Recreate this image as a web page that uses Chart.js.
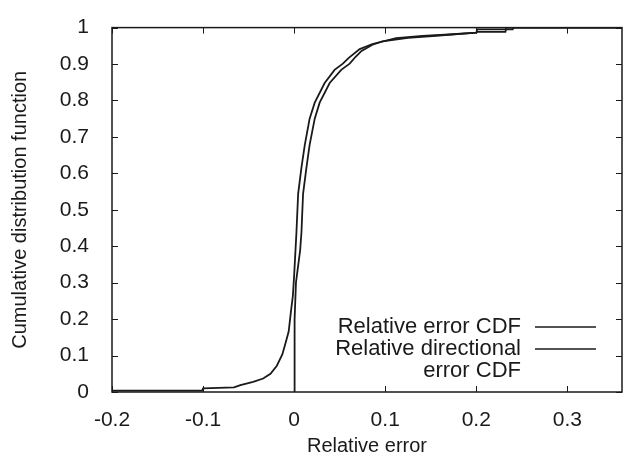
<!DOCTYPE html>
<html>
<head>
<meta charset="utf-8">
<script src="https://cdn.jsdelivr.net/npm/chart.js@4.4.1/dist/chart.umd.min.js"></script>
<style>
  html, body { margin: 0; padding: 0; background: #fff; }
  #wrap { width: 627px; height: 459px; }
</style>
</head>
<body>
<div id="wrap"><canvas id="cdf_chart"></canvas></div>
<script>
// ticks
const xTicks = [-0.2, -0.1, 0, 0.1, 0.2, 0.3];
const yTicks = [0, 0.1, 0.2, 0.3, 0.4, 0.5, 0.6, 0.7, 0.8, 0.9, 1];

// signed (directional) relative error CDF
const dirX = [-0.2, -0.101, -0.1, -0.066, -0.059, -0.045, -0.034, -0.026, -0.019, -0.013, -0.0098,
  -0.006, -0.0036, -0.0014, 0, 0.0025, 0.0044, 0.008, 0.0117, 0.017, 0.0226, 0.0335, 0.0444,
  0.0535, 0.06, 0.072, 0.086, 0.112, 0.141, 0.17, 0.2, 0.201, 0.232, 0.233, 0.36];
const dirY = [0.004, 0.004, 0.01, 0.0125, 0.019, 0.028, 0.037, 0.05, 0.072, 0.103, 0.131,
  0.166, 0.219, 0.264, 0.32, 0.437, 0.544, 0.616, 0.678, 0.75, 0.794, 0.848, 0.884,
  0.901, 0.917, 0.941, 0.955, 0.971, 0.977, 0.981, 0.986, 0.988, 0.988, 1, 1];

// absolute relative error CDF
const absX = [0, 0.0005, 0.002, 0.0066, 0.008, 0.0098, 0.0135, 0.017, 0.0226, 0.028, 0.039,
  0.0517, 0.061, 0.0675, 0.074, 0.086, 0.097, 0.125, 0.152, 0.2, 0.201, 0.24, 0.241, 0.36];
const absY = [0, 0.2, 0.3, 0.389, 0.437, 0.544, 0.616, 0.678, 0.75, 0.794, 0.848,
  0.884, 0.901, 0.92, 0.936, 0.953, 0.962, 0.972, 0.977, 0.986, 0.995, 0.995, 1, 1];

const toPoints = (xs, ys) => xs.map((x, i) => ({ x: x, y: ys[i] }));

const FONT = "'Liberation Sans', Arial, Helvetica, sans-serif";
const INK = "#1a1a1a";

// gnuplot style frame with inward ticks on all four sides + legend
const framePlugin = {
  id: "frame",
  afterDraw(chart) {
    const { ctx, chartArea: a, scales } = chart;
    ctx.save();
    ctx.strokeStyle = INK;
    ctx.lineWidth = 1;
    ctx.beginPath();
    xTicks.forEach((v) => {
      const px = Math.round(scales.x.getPixelForValue(v)) + 0.5;
      ctx.moveTo(px, a.bottom);
      ctx.lineTo(px, a.bottom - 6);
      ctx.moveTo(px, a.top);
      ctx.lineTo(px, a.top + 6);
    });
    yTicks.forEach((v) => {
      const py = Math.round(scales.y.getPixelForValue(v)) + 0.5;
      ctx.moveTo(a.left, py);
      ctx.lineTo(a.left + 6, py);
      ctx.moveTo(a.right, py);
      ctx.lineTo(a.right - 6, py);
    });
    ctx.stroke();
    ctx.lineWidth = 1.5;
    ctx.strokeRect(a.left, a.top, a.right - a.left, a.bottom - a.top);

    // legend
    ctx.fillStyle = INK;
    ctx.font = "22px " + FONT;
    ctx.textAlign = "right";
    ctx.textBaseline = "middle";
    const lines = [
      { text: "Relative error CDF", y: 327, key: true },
      { text: "Relative directional", y: 349, key: true },
      { text: "error CDF", y: 371, key: false },
    ];
    lines.forEach((l) => {
      ctx.fillText(l.text, 521, l.y);
      if (l.key) {
        ctx.beginPath();
        ctx.lineWidth = 1.5;
        ctx.moveTo(535, l.y);
        ctx.lineTo(596, l.y);
        ctx.stroke();
      }
    });
    ctx.restore();
  },
};

const ctx = document.getElementById("cdf_chart").getContext("2d");
const chart = new Chart(ctx, {
  type: "line",
  data: {
    datasets: [
      {
        label: "Relative error CDF",
        data: toPoints(absX, absY),
        borderColor: INK,
        borderWidth: 1.8,
        pointRadius: 0,
        tension: 0,
      },
      {
        label: "Relative directional error CDF",
        data: toPoints(dirX, dirY),
        borderColor: INK,
        borderWidth: 1.8,
        pointRadius: 0,
        tension: 0,
      },
    ],
  },
  options: {
    responsive: true,
    maintainAspectRatio: false,
    animation: false,
    layout: {
      padding: { left: 0, right: 5, top: 18, bottom: 0 },
    },
    plugins: {
      legend: { display: false },
      tooltip: { enabled: false },
    },
    scales: {
      x: {
        type: "linear",
        min: -0.2,
        max: 0.36,
        afterBuildTicks: (scale) => {
          scale.ticks = xTicks.map((v) => ({ value: v }));
        },
        afterFit: (scale) => {
          scale.height = 67;
        },
        grid: { display: false },
        border: { display: false },
        ticks: {
          color: INK,
          padding: 8,
          maxRotation: 0,
          font: { family: FONT, size: 21 },
          callback: (v) => String(Math.round(v * 10) / 10),
        },
        title: {
          display: true,
          text: "Relative error",
          color: INK,
          padding: { top: 0, bottom: 1 },
          font: { family: FONT, size: 20 },
        },
      },
      y: {
        min: 0,
        max: 1,
        afterBuildTicks: (scale) => {
          scale.ticks = yTicks.map((v) => ({ value: v }));
        },
        afterFit: (scale) => {
          scale.width = 112;
        },
        grid: { display: false },
        border: { display: false },
        ticks: {
          color: INK,
          padding: 15,
          font: { family: FONT, size: 21 },
          callback: (v) => String(Math.round(v * 10) / 10),
        },
        title: {
          display: true,
          text: "Cumulative distribution function",
          color: INK,
          padding: { top: 8, bottom: 0 },
          font: { family: FONT, size: 20 },
        },
      },
    },
  },
  plugins: [framePlugin],
});
</script>
</body>
</html>
